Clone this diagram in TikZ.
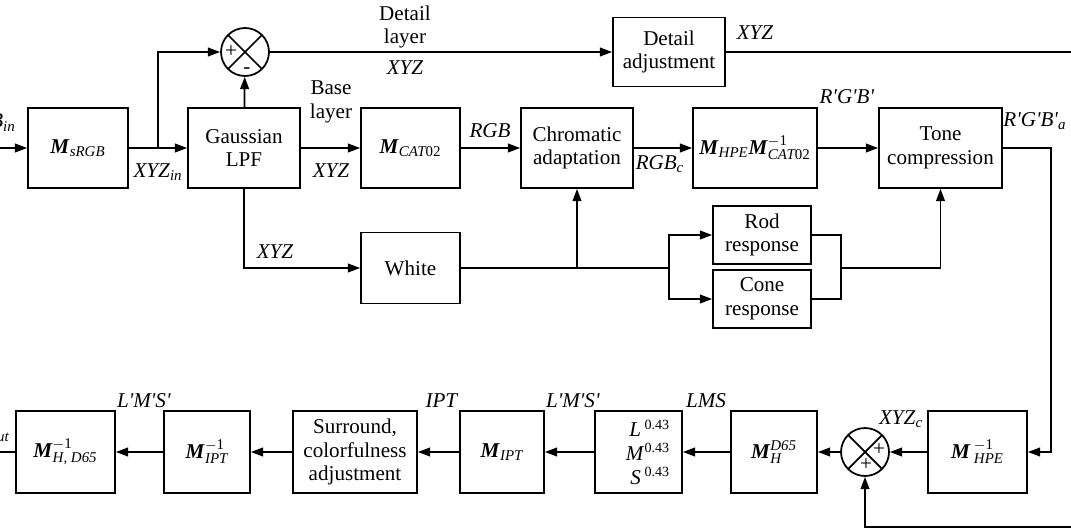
\documentclass[tikz,border=0pt]{standalone}
\usepackage{fontspec}
\setmainfont{Liberation Serif}
\usetikzlibrary{arrows.meta}
\tikzset{>={Triangle[length=7pt,width=5pt]}}
\newcommand{\vm}{\textbf{\textit{M}}}
\newcommand{\ssz}{\fontsize{8.5}{9}\selectfont}
\newcommand{\msub}[1]{$_{\mbox{\ssz\itshape #1}}$}
\newcommand{\msubsup}[2]{$_{\mbox{\ssz\itshape #1}}^{\mbox{\ssz #2}}$}
\newcommand{\pr}{\textquotesingle}

\begin{document}
\begin{tikzpicture}[x=0.02cm, y=-0.02cm,
    font=\fontsize{12}{13.5}\selectfont,
    block/.style={draw, line width=1pt, align=center, inner sep=1pt},
    sumnode/.style={circle, draw, line width=1pt, minimum size=0.96cm, inner sep=0pt,
      path picture={\draw[line width=1pt]
        (path picture bounding box.north west) -- (path picture bounding box.south east)
        (path picture bounding box.north east) -- (path picture bounding box.south west);}},
    lbl/.style={inner sep=0pt, align=center},
    sign/.style={inner sep=0pt, font=\fontsize{12}{12}\selectfont},
    link/.style={->, line width=1pt},
    wire/.style={line width=1pt}
]
\useasboundingbox (0,0) rectangle (1071,530);

% upper row
\node[block, minimum width=2cm, minimum height=1.6cm] (msrgb) at (78,148) {\vm\msub{sRGB}};
\node[block, minimum width=2.24cm, minimum height=1.6cm] (gauss) at (244,148) {Gaussian\\LPF};
\node[block, minimum width=1.98cm, minimum height=1.6cm] (mcat) at (410.5,148) {\vm\msub{CAT\upshape 02}};
\node[block, minimum width=2.24cm, minimum height=1.6cm] (chrom) at (577,148) {Chromatic\\adaptation};
\node[block, minimum width=2.48cm, minimum height=1.6cm] (mhpe) at (755,148) {\vm\msub{HPE}\vm\msubsup{CAT\upshape 02}{$-$1}};
\node[block, minimum width=2.46cm, minimum height=1.6cm] (tone) at (940.5,148) {Tone\\compression};
\node[block, minimum width=2.24cm, minimum height=1.38cm] (detail) at (669,52) {Detail\\adjustment};
\node[block, minimum width=1.98cm, minimum height=1.42cm] (white) at (410.5,268) {White};
\node[block, minimum width=1.96cm, minimum height=1.16cm] (rod) at (762,235) {Rod\\response};
\node[block, minimum width=1.96cm, minimum height=1.16cm] (cone) at (762,299) {Cone\\response};
\node[sumnode] (sumtop) at (245,52) {};

% lower row
\node[block, minimum width=1.98cm, minimum height=1.64cm] (mhpeinv) at (977.5,452) {\vm\,\msubsup{HPE}{$-$1}};
\node[sumnode] (sumbot) at (865,452) {};
\node[block, minimum width=1.72cm, minimum height=1.64cm] (mhd) at (774,452) {\vm\msubsup{H}{\itshape D65}};
\node[block, minimum width=1.74cm, minimum height=1.64cm, text width=1.26cm, align=right] (power) at (638.5,452) {\textit{L}\,\textsuperscript{0.43}\\\textit{M}\textsuperscript{0.43}\\\textit{S}\,\textsuperscript{0.43}};
\node[block, minimum width=1.68cm, minimum height=1.64cm] (mipt) at (502,452) {\vm\msub{IPT}};
\node[block, minimum width=2.48cm, minimum height=1.64cm] (surround) at (355,452) {Surround,\\colorfulness\\adjustment};
\node[block, minimum width=1.72cm, minimum height=1.64cm] (miptinv) at (207,452) {\vm\msubsup{IPT}{$-$1}};
\node[block, minimum width=1.98cm, minimum height=1.64cm] (mhdinv) at (65.5,452) {\vm\msubsup{H\upshape, \itshape D65}{$-$1}};

% signs
\node[sign] (plusa) at (231,52) {+};
\node[sign] (minusa) at (247,71) {-};
\node[sign] (plusb) at (879,450) {+};
\node[sign] (plusc) at (866,465) {+};

% labels
\node[lbl, anchor=base east] (inlbl) at (16,128) {\textit{RGB}\msub{in}};
\node[lbl, anchor=base east] (outlbl) at (10,438) {\textit{RGB}\msub{out}};
\node[lbl] (xyzin) at (158,172) {\textit{XYZ}\msub{in}};
\node[lbl] (baselbl) at (331,102) {Base\\layer};
\node[lbl] (xyzbase) at (331,171) {\textit{XYZ}};
\node[lbl] (detlbl) at (405,27) {Detail\\layer};
\node[lbl] (xyzdet) at (405,68) {\textit{XYZ}};
\node[lbl] (xyzout) at (755,33) {\textit{XYZ}};
\node[lbl] (rgblbl) at (490,131) {\textit{RGB}};
\node[lbl] (rgbc) at (660,164) {\textit{RGB}\msub{c}};
\node[lbl] (rgbp) at (847,97) {\textit{R\pr G\pr B\pr}};
\node[lbl] (rgbpa) at (1035,121) {\textit{R\pr G\pr B\pr}\msub{a}};
\node[lbl] (xyzwhite) at (275,252) {\textit{XYZ}};
\node[lbl] (xyzc) at (901,419) {\textit{XYZ}\msub{c}};
\node[lbl] (lmslbl) at (706,401) {\textit{LMS}};
\node[lbl] (lmsp) at (573,401) {\textit{L\pr M\pr S\pr}};
\node[lbl] (iptlbl) at (442,401) {\textit{IPT}};
\node[lbl] (lmsq) at (144,401) {\textit{L\pr M\pr S\pr}};

\coordinate (in) at (0,148);
\coordinate (br1) at (158,148);
\coordinate (dout) at (1071,52);
\coordinate (br2) at (669,268);
\coordinate (mg) at (841,268);
\coordinate (tap) at (chrom.south |- white.east);
\coordinate (tdown) at (1051,148);
\coordinate (fb) at (1071,527);
\coordinate (out) at (0,452);

\draw[link] (in) -- (msrgb);
\draw[link] (msrgb) -- (gauss);
\draw[link] (br1) |- (sumtop);
\draw[link] (gauss) -- (sumtop);
\draw[link] (sumtop) -- (detail);
\draw[wire] (detail) -- (dout);
\draw[link] (gauss) -- (mcat);
\draw[link] (mcat) -- (chrom);
\draw[link] (chrom) -- (mhpe);
\draw[link] (mhpe) -- (tone);
\draw[link] (tone.east) -- (tdown) |- (mhpeinv.east);
\draw[link] (gauss.south) |- (white.west);
\draw[wire] (white.east) -- (br2);
\draw[link] (tap) -- (chrom.south);
\draw[link] (br2) |- (rod.west);
\draw[link] (br2) |- (cone.west);
\draw[wire] (rod.east) -| (mg) (cone.east) -| (mg);
\draw[link] (mg) -| (tone.south);
\draw[link] (mhpeinv) -- (sumbot);
\draw[link] (sumbot) -- (mhd);
\draw[link] (mhd) -- (power);
\draw[link] (power) -- (mipt);
\draw[link] (mipt) -- (surround);
\draw[link] (surround) -- (miptinv);
\draw[link] (miptinv) -- (mhdinv);
\draw[wire] (mhdinv) -- (out);
\draw[link] (fb) -| (sumbot.south);
\end{tikzpicture}
\end{document}
